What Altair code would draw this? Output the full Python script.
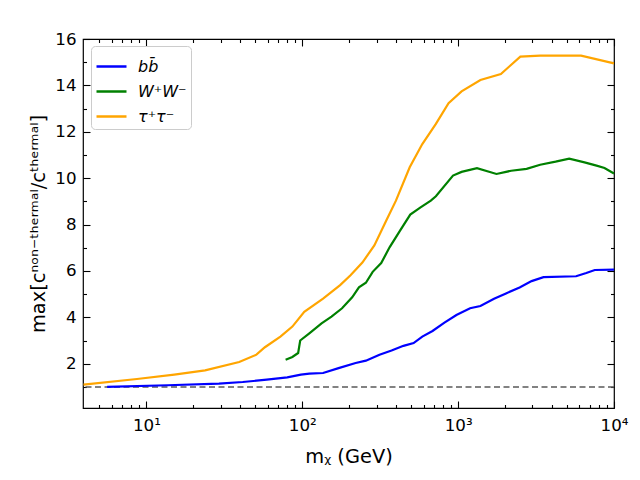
import altair as alt
import pandas as pd

# ---- data ----
labels = ["bb\u0304", "W\u207aW\u207b", "\u03c4\u207a\u03c4\u207b"]
colors = ["#0000ff", "#008000", "#ffa500"]

bb_x = [5.6, 13.7, 29.2, 41.5, 59.2, 80.1, 98, 111, 136, 171, 220, 256, 313, 374, 446,
        518, 589, 685, 817, 975, 1193, 1390, 1700, 2028, 2480, 2960, 3530, 5710, 6640,
        7530, 10000]
bb_y = [1.0, 1.07, 1.14, 1.21, 1.31, 1.41, 1.53, 1.57, 1.6, 1.81, 2.03, 2.13, 2.39, 2.57,
        2.77, 2.89, 3.17, 3.41, 3.77, 4.1, 4.39, 4.49, 4.8, 5.03, 5.29, 5.56, 5.73, 5.77,
        5.91, 6.04, 6.06]

ww_x = [78.2, 86.4, 94.1, 97, 111, 133, 154, 180, 209, 231, 256, 283, 321, 364, 424, 493,
        574, 668, 720, 927, 1052, 1321, 1762, 2190, 2750, 3360, 4220, 5160, 6470, 7730,
        8690, 10000]
ww_y = [2.17, 2.29, 2.46, 3.0, 3.31, 3.74, 4.03, 4.39, 4.86, 5.29, 5.49, 5.96, 6.34, 7.03,
        7.74, 8.43, 8.74, 9.03, 9.22, 10.11, 10.27, 10.43, 10.18, 10.32, 10.4, 10.58,
        10.71, 10.84, 10.68, 10.54, 10.44, 10.2]

tau_x = [3.95, 8.7, 15.1, 23.8, 39.4, 50.8, 57.6, 72.4, 86.4, 103, 136, 175, 204, 243,
         290, 346, 399, 489, 589, 720, 868, 1052, 1390, 1880, 2507, 3360, 6150, 10000]
tau_y = [1.1, 1.34, 1.53, 1.71, 2.07, 2.39, 2.71, 3.17, 3.6, 4.24, 4.81, 5.39, 5.81, 6.36,
         7.1, 8.17, 9.03, 10.47, 11.47, 12.34, 13.23, 13.74, 14.23, 14.49, 15.24, 15.28,
         15.28, 14.95]

x_major = [10, 100, 1000, 10000]
x_minor = [5, 6, 7, 8, 9, 20, 30, 40, 50, 60, 70, 80, 90, 200, 300, 400, 500, 600, 700,
           800, 900, 2000, 3000, 4000, 5000, 6000, 7000, 8000, 9000]
y_major = [2, 4, 6, 8, 10, 12, 14, 16]
y_minor = [1, 3, 5, 7, 9, 11, 13, 15]
ref_level = [1.0]

rows = []
for name, xs, ys in zip(labels, [bb_x, ww_x, tau_x], [bb_y, ww_y, tau_y]):
    for xv, yv in zip(xs, ys):
        rows.append({"m": xv, "v": yv, "ch": name})
df = pd.DataFrame(rows)
ref_df = pd.DataFrame({"r": ref_level})

W, H = 531, 369
FONT = "DejaVu Sans"

xscale = alt.Scale(type="log", domain=[3.92, 10000], nice=False)
yscale = alt.Scale(domain=[0.09, 16], nice=False, zero=False)

label_expr = ("datum.value == 10 ? '10\u00b9' : datum.value == 100 ? '10\u00b2' : "
              "datum.value == 1000 ? '10\u00b3' : '10\u2074'")

lines = alt.Chart(df).mark_line(strokeWidth=2.2).encode(
    x=alt.X("m:Q", scale=xscale,
            axis=alt.Axis(orient="bottom", values=x_major, labelExpr=label_expr,
                          ticks=False, tickSize=0, domain=False, grid=False,
                          labelFont=FONT, labelFontSize=16.7, labelColor="black",
                          labelPadding=9, labelFlush=False,
                          title="m\u1d6a (GeV)", titleFont=FONT, titleFontSize=19.4,
                          titleFontWeight="normal", titleColor="black", titlePadding=14)),
    y=alt.Y("v:Q", scale=yscale,
            axis=alt.Axis(orient="left", values=y_major, ticks=False, tickSize=0,
                          domain=False, grid=False, labelFont=FONT, labelFontSize=16.7,
                          labelColor="black", labelPadding=7, labelFlush=False,
                          title="max[c\u207f\u1d52\u207f\u207b\u1d57\u02b0\u1d49\u02b3\u1d50\u1d43\u02e1/c\u1d57\u02b0\u1d49\u02b3\u1d50\u1d43\u02e1]",
                          titleFont=FONT, titleFontSize=19.4, titleFontWeight="normal",
                          titleColor="black", titlePadding=6)),
    color=alt.Color("ch:N", scale=alt.Scale(domain=labels, range=colors),
                    legend=alt.Legend(title=None, orient="none", legendX=8, legendY=7,
                                      symbolType="stroke", symbolSize=900,
                                      symbolStrokeWidth=2.5, labelFont=FONT,
                                      labelFontSize=16, labelFontStyle="italic",
                                      labelColor="black", labelOffset=10,
                                      rowPadding=0, padding=4, fillColor="white",
                                      strokeColor="#cccccc", cornerRadius=4)),
)


def tick_layer(xvals, yvals, xorient, yorient, size):
    return alt.Chart(ref_df).mark_point(opacity=0).encode(
        x=alt.X("r:Q", scale=xscale,
                axis=alt.Axis(orient=xorient, offset=-H, values=xvals, labels=False,
                              domain=False, grid=False, ticks=True, tickSize=size,
                              tickWidth=1.1, tickColor="black", title=None)),
        y=alt.Y("r:Q", scale=yscale,
                axis=alt.Axis(orient=yorient, offset=-W, values=yvals, labels=False,
                              domain=False, grid=False, ticks=True, tickSize=size,
                              tickWidth=1.1, tickColor="black", title=None)),
    )


ticks_in_major = tick_layer(x_major, y_major, "top", "right", 7)
ticks_in_minor = tick_layer(x_minor, y_minor, "top", "right", 3.5)
ticks_out_major = tick_layer(x_major, y_major, "bottom", "left", 7)
ticks_out_minor = tick_layer(x_minor, y_minor, "bottom", "left", 3.5)

ref = alt.Chart(ref_df).mark_rule(color="#5a5a5a", strokeWidth=1.5,
                                  strokeDash=[6, 3.5]).encode(
    y=alt.Y("r:Q", scale=yscale, axis=None))

chart = alt.layer(
    ref, lines, ticks_in_major, ticks_in_minor, ticks_out_major, ticks_out_minor
).resolve_axis(x="independent", y="independent").properties(
    width=W, height=H,
    autosize=alt.AutoSizeParams(type="none"),
    padding={"left": 75, "top": 31, "right": 18, "bottom": 64},
).configure_view(stroke="black", strokeWidth=1.2)

chart.save("out.html", embed_options={"renderer": "svg", "actions": False})
